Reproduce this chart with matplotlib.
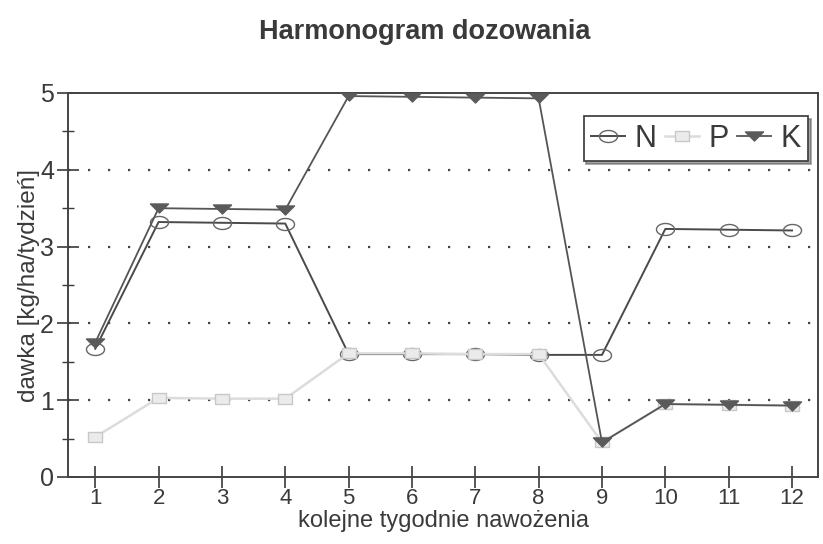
import numpy as np
import matplotlib.pyplot as plt
from matplotlib.path import Path
from matplotlib.ticker import MultipleLocator

plt.rcParams['font.family'] = ['Liberation Sans', 'DejaVu Sans']

weeks = [1, 2, 3, 4, 5, 6, 7, 8, 9, 10, 11, 12]
n_vals = [1.67, 3.32, 3.31, 3.30, 1.60, 1.60, 1.60, 1.59, 1.59, 3.23, 3.22, 3.21]
p_vals = [0.52, 1.03, 1.02, 1.02, 1.61, 1.61, 1.60, 1.60, 0.45, 0.95, 0.94, 0.93]
k_vals = [1.75, 3.50, 3.49, 3.48, 4.96, 4.95, 4.94, 4.93, 0.45, 0.95, 0.94, 0.93]

# flattened markers, like in the scan
t = np.linspace(0, 2 * np.pi, 40)
ellipse = Path(np.column_stack([1.5 * np.cos(t), np.sin(t)]), closed=True)
flat_tri = Path([(-1.6, 0.8), (1.6, 0.8), (0, -0.8), (-1.6, 0.8)], closed=True)
flat_sq = Path([(-1.4, -1), (1.4, -1), (1.4, 1), (-1.4, 1), (-1.4, -1)], closed=True)

fig = plt.figure(figsize=(8.23, 5.44), dpi=100)
ax = fig.add_axes([68/823, 1 - 477/544, 750/823, 384/544])

for yv in [1, 2, 3, 4]:
    ax.axhline(yv, color='#444444', linestyle=(0, (1, 8)), linewidth=1.6, zorder=1)

ax.plot(weeks, n_vals, color='#4a4a4a', linewidth=1.4, marker=ellipse, markersize=13,
        markerfacecolor='none', markeredgecolor='#666666', markeredgewidth=1.0, label='N', zorder=2)
ax.plot(weeks, p_vals, color='#dcdcdc', linewidth=1.8, marker=flat_sq, markersize=10,
        markerfacecolor='#ebebeb', markeredgecolor='#c8c8c8', markeredgewidth=1.0, label='P', zorder=3)
ax.plot(weeks, k_vals, color='#555555', linewidth=1.3, marker=flat_tri, markersize=13,
        markerfacecolor='#5a5a5a', markeredgecolor='#5a5a5a', label='K', zorder=4)

ax.set_xlim(0.57, 12.41)
ax.set_ylim(0, 5)
ax.set_xticks(weeks)
ax.yaxis.set_major_locator(MultipleLocator(1))
ax.yaxis.set_minor_locator(MultipleLocator(0.5))
ax.tick_params(axis='both', which='major', direction='inout', length=16, width=1.2,
               colors='#3a3a3a')
ax.tick_params(axis='y', which='major', labelsize=18, pad=2)
ax.tick_params(axis='x', which='major', labelsize=16, pad=0)
ax.tick_params(axis='y', which='minor', direction='inout', length=9, width=1.0, colors='#3a3a3a')
for s in ax.spines.values():
    s.set_color('#444444')
    s.set_linewidth(1.4)

ax.set_xlabel('kolejne tygodnie nawożenia', fontsize=17, color='#3a3a3a', labelpad=1)
ax.set_ylabel('dawka [kg/ha/tydzień]', fontsize=17.5, color='#3a3a3a', labelpad=0)
fig.suptitle('Harmonogram dozowania', fontsize=19.5, fontweight='bold', color='#3a3a3a',
             x=0.516, y=0.965)

h, l = ax.get_legend_handles_labels()
leg = ax.legend(h, l, ncol=3, loc='upper right', bbox_to_anchor=(0.987, 0.94), fontsize=22,
                frameon=True, fancybox=False, shadow=True, handlelength=1.1, handletextpad=0.3,
                columnspacing=0.3, borderpad=0.25, borderaxespad=0, edgecolor='#444444',
                framealpha=1)
leg.get_frame().set_linewidth(1.3)
for txt in leg.get_texts():
    txt.set_color('#3a3a3a')

fig.savefig('out.png', dpi=100)
